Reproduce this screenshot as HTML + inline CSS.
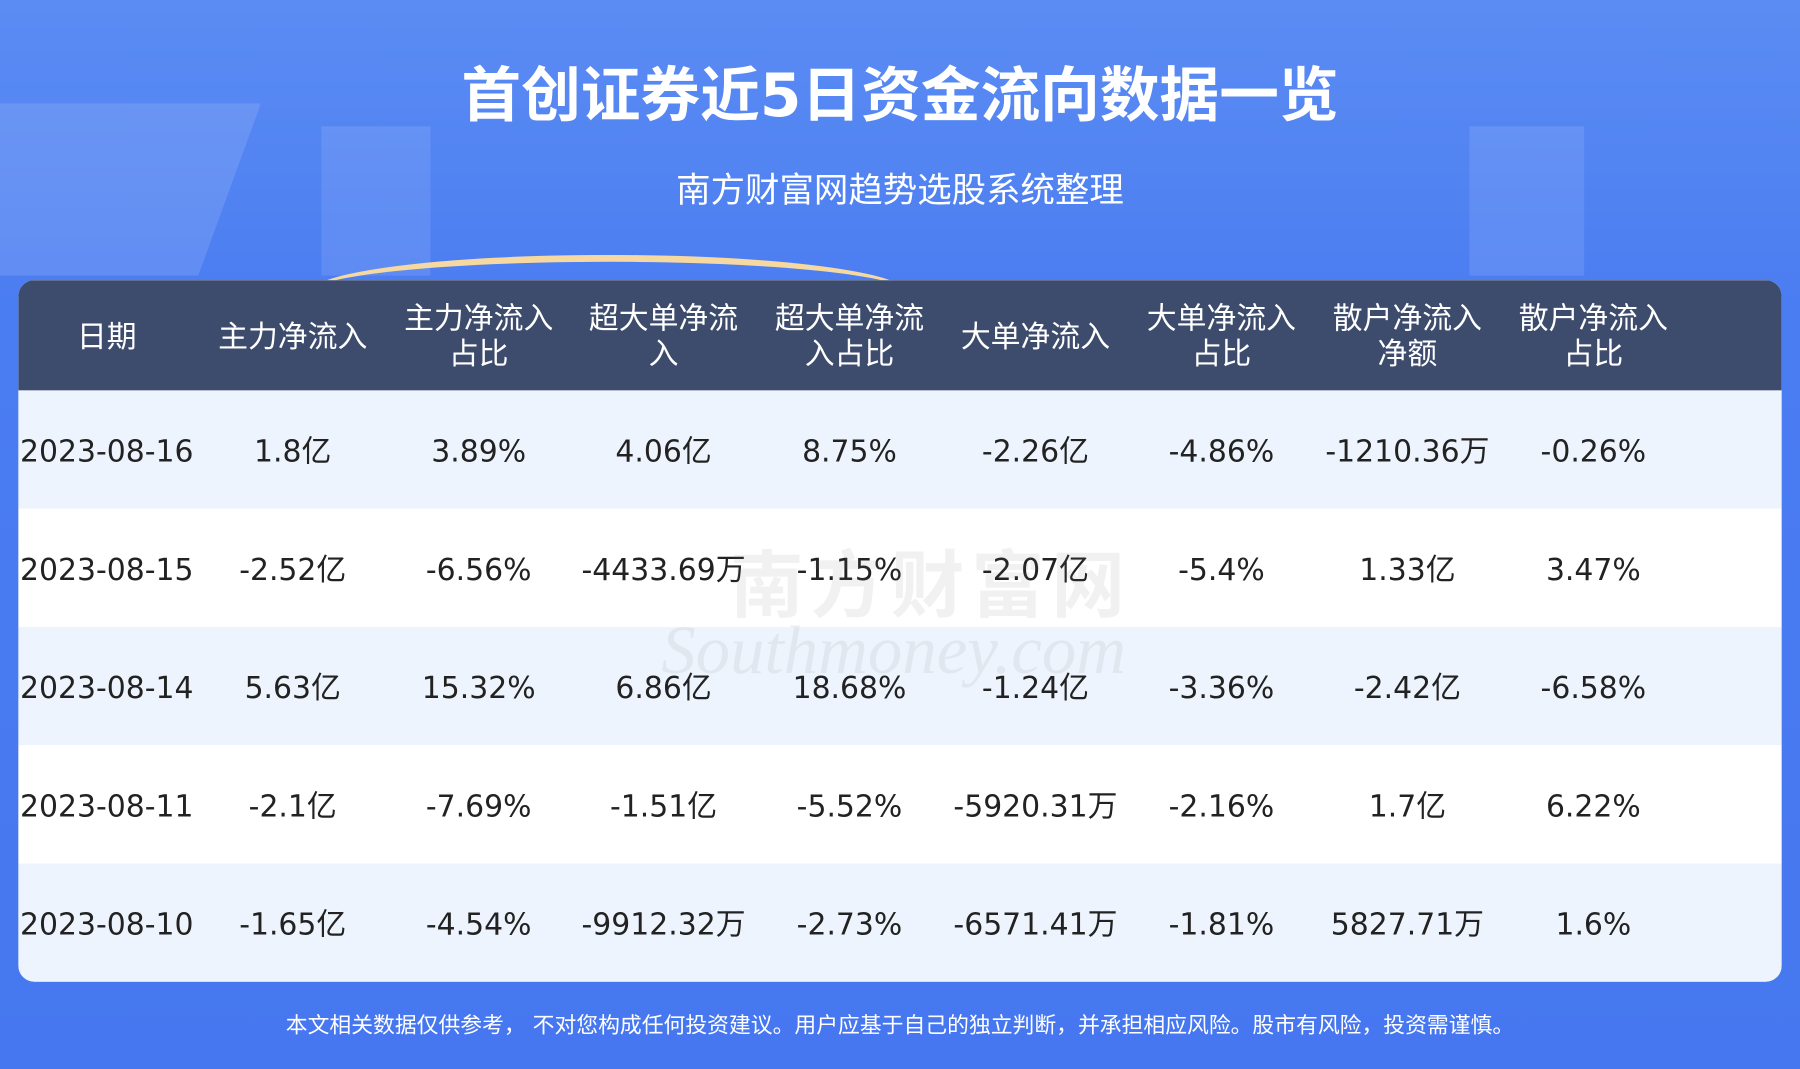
<!DOCTYPE html>
<html><head><meta charset="utf-8">
<style>
html,body{margin:0;padding:0;width:1800px;height:1069px;overflow:hidden;background:#4677f0;}
#s{position:absolute;left:0;top:0;width:1568px;height:931px;transform:scale(1.14796,1.14823);transform-origin:0 0;
background:linear-gradient(180deg,#5b8cf3 0%,#4a7cf2 30%,#4677f0 100%);overflow:hidden;
font-family:"DejaVu Sans","Noto Sans CJK SC",sans-serif;color:#fff;}
.t{position:absolute;left:0;width:1568px;text-align:center;}
#card{position:absolute;left:16px;top:244px;width:1536px;height:611px;border-radius:14px;overflow:hidden;background:#fff;}
#hd{position:absolute;left:0;top:0;width:1536px;height:96px;background:#3d4b6c;}
.row{position:absolute;left:0;width:1536px;height:103px;}
.c{position:absolute;width:162px;text-align:center;transform:translateX(-81px);white-space:nowrap;}
.h{color:#fff;font-size:26px;line-height:31px;}
.d{color:#222;font-size:26px;line-height:103px;top:3px;}
</style></head><body><div id="s">
<div style="position:absolute;left:-40px;top:90px;width:240px;height:150px;background:rgba(255,255,255,0.12);transform:skewX(-20deg)"></div>
<div style="position:absolute;left:280px;top:110px;width:95px;height:130px;background:rgba(255,255,255,0.1)"></div>
<div style="position:absolute;left:1280px;top:110px;width:100px;height:130px;background:rgba(255,255,255,0.1)"></div>
<div style="position:absolute;left:270px;top:222px;width:520px;height:60px;border-radius:50%;border-top:6px solid #f5d9a0;"></div>
<div class="t" style="top:50px;font-size:52px;font-weight:bold;line-height:68px;">首创证券近5日资金流向数据一览</div>
<div class="t" style="top:147px;font-size:30px;line-height:40px;">南方财富网趋势选股系统整理</div>
<div id="card">
<div id="hd">
<div class="c h" style="left:77px;top:35px">日期</div>
<div class="c h" style="left:239px;top:35px">主力净流入</div>
<div class="c h" style="left:401px;top:19px">主力净流入<br>占比</div>
<div class="c h" style="left:562px;top:19px">超大单净流<br>入</div>
<div class="c h" style="left:724px;top:19px">超大单净流<br>入占比</div>
<div class="c h" style="left:886px;top:35px">大单净流入</div>
<div class="c h" style="left:1048px;top:19px">大单净流入<br>占比</div>
<div class="c h" style="left:1210px;top:19px">散户净流入<br>净额</div>
<div class="c h" style="left:1372px;top:19px">散户净流入<br>占比</div>
</div>
<div class="row" style="top:96px;background:#eef4fd">
<div class="c d" style="left:77px">2023-08-16</div><div class="c d" style="left:239px">1.8亿</div><div class="c d" style="left:401px">3.89%</div><div class="c d" style="left:562px">4.06亿</div><div class="c d" style="left:724px">8.75%</div><div class="c d" style="left:886px">-2.26亿</div><div class="c d" style="left:1048px">-4.86%</div><div class="c d" style="left:1210px">-1210.36万</div><div class="c d" style="left:1372px">-0.26%</div></div>
<div class="row" style="top:199px;background:#fff">
<div class="c d" style="left:77px">2023-08-15</div><div class="c d" style="left:239px">-2.52亿</div><div class="c d" style="left:401px">-6.56%</div><div class="c d" style="left:562px">-4433.69万</div><div class="c d" style="left:724px">-1.15%</div><div class="c d" style="left:886px">-2.07亿</div><div class="c d" style="left:1048px">-5.4%</div><div class="c d" style="left:1210px">1.33亿</div><div class="c d" style="left:1372px">3.47%</div></div>
<div class="row" style="top:302px;background:#eef4fd">
<div class="c d" style="left:77px">2023-08-14</div><div class="c d" style="left:239px">5.63亿</div><div class="c d" style="left:401px">15.32%</div><div class="c d" style="left:562px">6.86亿</div><div class="c d" style="left:724px">18.68%</div><div class="c d" style="left:886px">-1.24亿</div><div class="c d" style="left:1048px">-3.36%</div><div class="c d" style="left:1210px">-2.42亿</div><div class="c d" style="left:1372px">-6.58%</div></div>
<div class="row" style="top:405px;background:#fff">
<div class="c d" style="left:77px">2023-08-11</div><div class="c d" style="left:239px">-2.1亿</div><div class="c d" style="left:401px">-7.69%</div><div class="c d" style="left:562px">-1.51亿</div><div class="c d" style="left:724px">-5.52%</div><div class="c d" style="left:886px">-5920.31万</div><div class="c d" style="left:1048px">-2.16%</div><div class="c d" style="left:1210px">1.7亿</div><div class="c d" style="left:1372px">6.22%</div></div>
<div class="row" style="top:508px;background:#eef4fd">
<div class="c d" style="left:77px">2023-08-10</div><div class="c d" style="left:239px">-1.65亿</div><div class="c d" style="left:401px">-4.54%</div><div class="c d" style="left:562px">-9912.32万</div><div class="c d" style="left:724px">-2.73%</div><div class="c d" style="left:886px">-6571.41万</div><div class="c d" style="left:1048px">-1.81%</div><div class="c d" style="left:1210px">5827.71万</div><div class="c d" style="left:1372px">1.6%</div></div>
<div style="position:absolute;left:620px;top:215px;font-size:64px;color:rgba(120,120,120,0.1);font-weight:bold;letter-spacing:6px">南方财富网</div>
<div style="position:absolute;left:560px;top:288px;font-size:60px;color:rgba(120,120,120,0.1);font-style:italic;font-family:'Liberation Serif',serif">Southmoney.com</div>
</div>
<div class="t" style="top:880px;font-size:19px;line-height:26px;">本文相关数据仅供参考， 不对您构成任何投资建议。用户应基于自己的独立判断，并承担相应风险。股市有风险，投资需谨慎。</div>
</div></body></html>
